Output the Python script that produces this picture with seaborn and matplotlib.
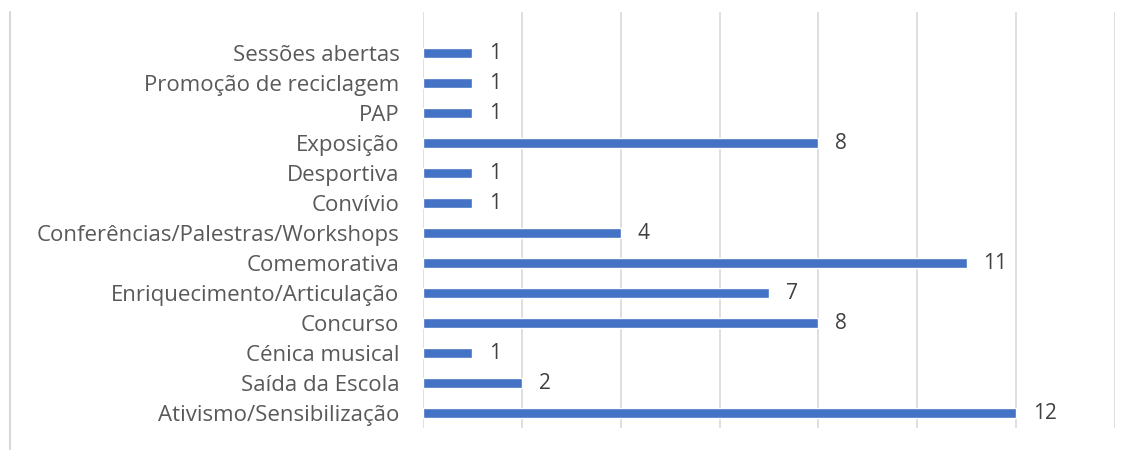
import matplotlib
matplotlib.use("Agg")
import matplotlib.pyplot as plt
import seaborn as sns
import pandas as pd
from matplotlib.lines import Line2D

categories = ["Sessões abertas", "Promoção de reciclagem", "PAP", "Exposição",
              "Desportiva", "Convívio", "Conferências/Palestras/Workshops",
              "Comemorativa", "Enriquecimento/Articulação", "Concurso",
              "Cénica musical", "Saída da Escola", "Ativismo/Sensibilização"]
values = [1, 1, 1, 8, 1, 1, 4, 11, 7, 8, 1, 2, 12]

df = pd.DataFrame({"cat": categories, "val": values})

sns.set_style("white")
plt.rcParams['font.family'] = ['Open Sans', 'DejaVu Sans']

fig = plt.figure(figsize=(11.36, 4.5), dpi=100)
ax = fig.add_axes([423/1136, 1 - 428/450, (1115 - 423)/1136, (428 - 12)/450])

sns.barplot(data=df, y="cat", x="val", orient="h", color="#4472C4",
            width=0.32, saturation=1, ax=ax, order=categories)

ax.set_xlim(0, 14)
ax.set_ylim(12.5, -1.37)
ax.set_xticks(range(0, 15, 2))
ax.set_xticklabels([])
ax.tick_params(axis="x", length=0)
ax.tick_params(axis="y", length=0, pad=17, labelsize=16, labelcolor="#595959")
ax.grid(axis="x", color="#D9D9D9", linewidth=1.2)
ax.set_axisbelow(True)
for s in ax.spines.values():
    s.set_visible(False)
ax.set_xlabel("")
ax.set_ylabel("")

for i, v in enumerate(values):
    ax.annotate(str(v), xy=(v, i), xytext=(12, 0), textcoords="offset points",
                va="center", ha="left", fontsize=15, color="#404040")

fig.add_artist(Line2D([10/1136, 10/1136], [0, 1 - 12/450], transform=fig.transFigure,
                      color="#D9D9D9", linewidth=1.5))

fig.savefig("out.png", dpi=100)
